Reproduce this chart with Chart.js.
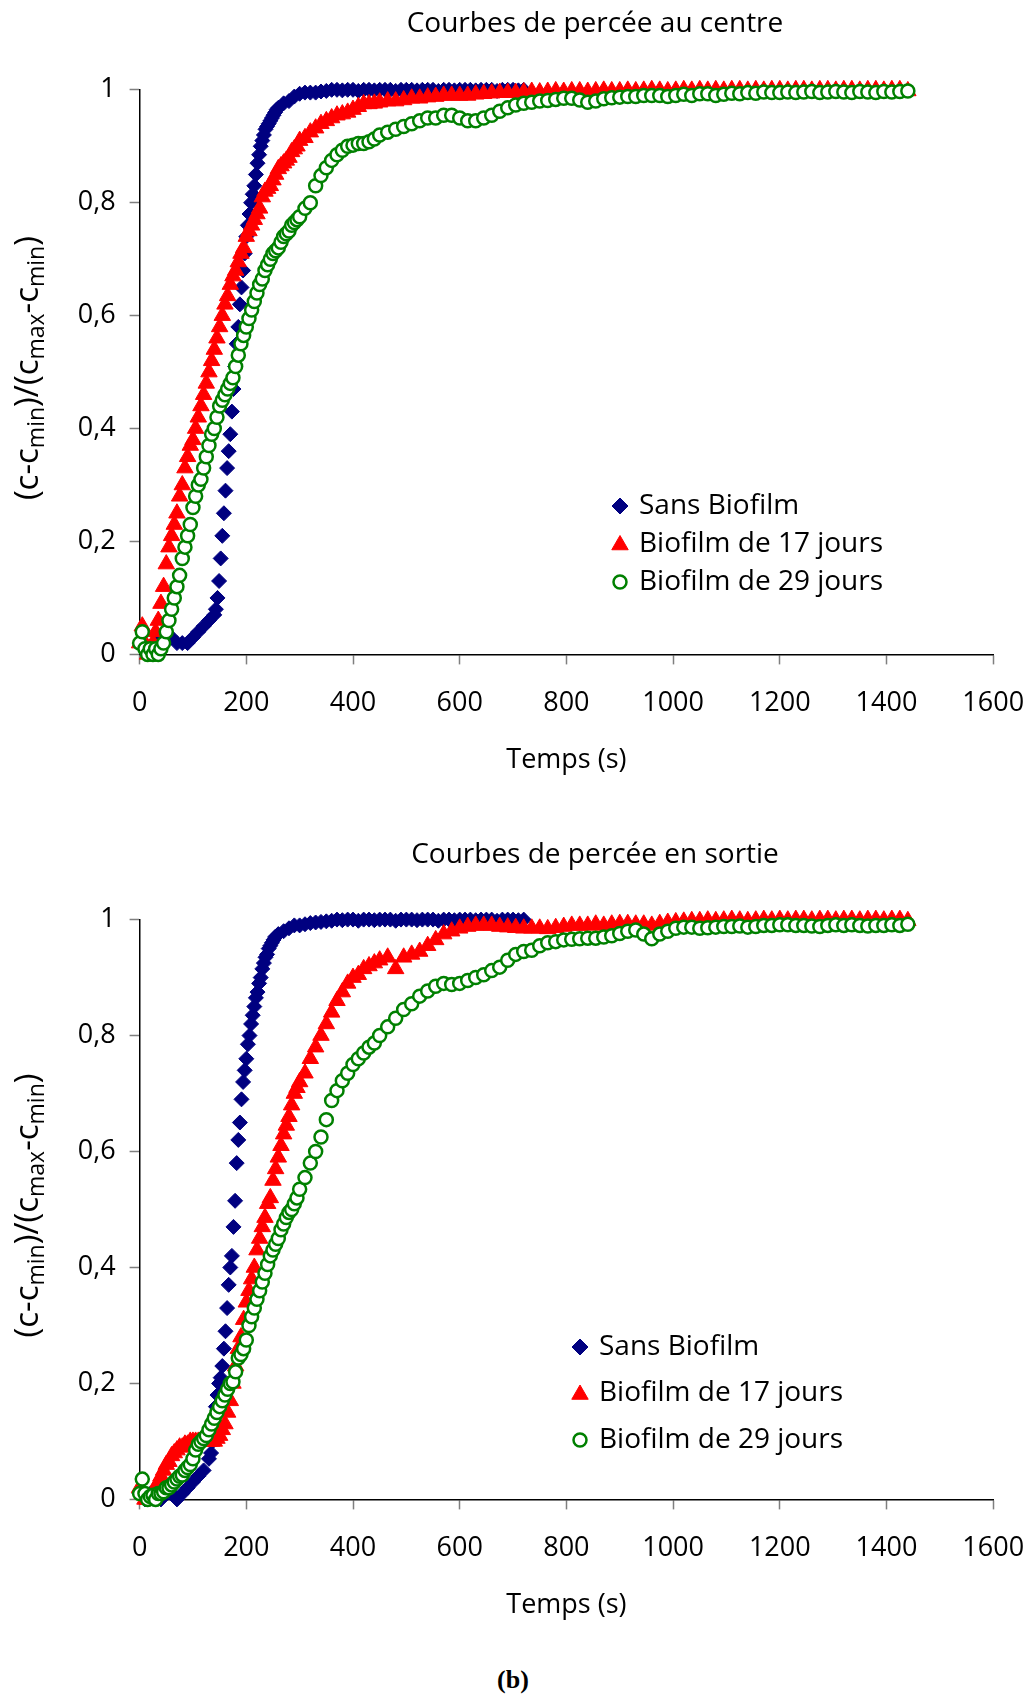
<!DOCTYPE html>
<html>
<head>
<meta charset="utf-8">
<script src="https://cdn.jsdelivr.net/npm/chart.js@4.4.1/dist/chart.umd.min.js"></script>
<style>
  html, body { margin: 0; padding: 0; background: #fff; }
  #page { position: relative; width: 1030px; height: 1697px; }
  #wrapCentre { position: absolute; left: 0; top: 0; width: 1030px; height: 790px; }
  #wrapSortie { position: absolute; left: 0; top: 800px; width: 1030px; height: 830px; }
  #caption { position: absolute; left: 0; width: 1026px; top: 1665px; text-align: center;
             font: bold 26px "Liberation Serif", "DejaVu Serif", serif; color: #000; }
</style>
</head>
<body>
<div id="page">
  <div id="wrapCentre"><canvas id="chartCentre" width="1030" height="790"></canvas></div>
  <div id="wrapSortie"><canvas id="chartSortie" width="1030" height="830"></canvas></div>
  <div id="caption">(b)</div>
</div>
<script>
(function () {
    'use strict';

    // ---- data ----
    function range(a, b, step) {
        const out = [];
        for (let t = a; t <= b + 1e-9; t += step) out.push(t);
        return out;
    }

    const seriesNames = ['Sans Biofilm', 'Biofilm de 17 jours', 'Biofilm de 29 jours'];
    const xTicks = [0, 200, 400, 600, 800, 1000, 1200, 1400, 1600];
    const yTicks = [0, 0.2, 0.4, 0.6, 0.8, 1];

    // sampling times (s)
    const tSansCentre = [...range(0, 130, 10), ...range(140, 260, 3), ...range(270, 720, 10)];
    const tSansSortie = [...range(0, 130, 10), ...range(134, 260, 3), ...range(270, 720, 10)];
    const tBiofilm = [...range(0, 300, 5), ...range(310, 450, 10), ...range(465, 1440, 15)];

    // --- au centre ---
    const sansCentre = [
        0.02, 0.01, 0.01, 0.02, 0.03, 0.03, 0.03, 0.02, 0.02, 0.02, 0.03, 0.04, 0.05, 0.06,
        0.07, 0.08, 0.10, 0.13, 0.17, 0.21, 0.25, 0.29, 0.33, 0.36,
        0.39, 0.43, 0.47, 0.51, 0.55, 0.58, 0.62, 0.65, 0.68, 0.71,
        0.74, 0.76, 0.78, 0.80, 0.815, 0.83, 0.85, 0.87, 0.885, 0.90,
        0.91, 0.92, 0.93, 0.935, 0.94, 0.945, 0.95, 0.955, 0.96, 0.965, 0.968,
        0.976, 0.98, 0.988, 0.993, 0.995, 0.995, 0.995, 0.997, 0.998, 1,
        1, 0.999, 1, 1, 0.998, 1, 1, 0.999, 1, 1,
        1, 0.998, 1, 1, 1, 0.999, 1, 1, 1, 0.998,
        1, 1, 0.999, 1, 1, 1, 0.999, 1, 1, 1,
        0.998, 1, 1, 1, 0.999, 1
    ];
    const bio17Centre = [
        0.02, 0.05, 0.02, 0.0, 0.0, 0.02, 0.04, 0.06, 0.09, 0.12,
        0.16, 0.19, 0.21, 0.23, 0.25, 0.28, 0.30, 0.33, 0.35, 0.37,
        0.38, 0.40, 0.42, 0.44, 0.46, 0.48, 0.50, 0.52, 0.54, 0.56,
        0.58, 0.60, 0.62, 0.635, 0.655, 0.67, 0.68, 0.695, 0.71, 0.72,
        0.74, 0.75, 0.76, 0.77, 0.78, 0.79, 0.81, 0.82, 0.825, 0.83,
        0.84, 0.85, 0.86, 0.865, 0.87, 0.875, 0.88, 0.89, 0.895, 0.90,
        0.91,
        0.915, 0.925, 0.932, 0.94, 0.945, 0.95, 0.955, 0.957, 0.96, 0.965,
        0.97, 0.975, 0.975, 0.976, 0.978,
        0.98, 0.98, 0.982, 0.985, 0.985, 0.987, 0.988, 0.99, 0.99, 0.99,
        0.99, 0.992, 0.993, 0.994, 0.995, 0.995, 0.995, 0.996, 0.997, 0.996,
        0.997, 0.998, 0.997, 0.998, 0.998, 0.997, 0.998, 0.999, 0.998, 0.998,
        0.999, 0.998, 0.999, 1, 0.999, 0.998, 0.999, 1, 0.999, 1,
        0.999, 1, 0.999, 1, 1, 0.999, 1, 0.999, 1, 1,
        0.999, 1, 1, 0.999, 1, 1, 0.999, 1, 1, 0.999,
        1, 1, 0.999, 1, 1, 0.998
    ];
    const bio29Centre = [
        0.02, 0.04, 0.01, 0.0, 0.01, 0.0, 0.01, 0.0, 0.01, 0.02,
        0.04, 0.06, 0.08, 0.10, 0.12, 0.14, 0.17, 0.19, 0.21, 0.23,
        0.26, 0.28, 0.30, 0.31, 0.33, 0.35, 0.37, 0.39, 0.40, 0.42,
        0.44, 0.45, 0.46, 0.47, 0.48, 0.49, 0.51, 0.53, 0.55, 0.565,
        0.58, 0.595, 0.61, 0.625, 0.64, 0.655, 0.665, 0.68, 0.69, 0.70,
        0.71, 0.715, 0.72, 0.73, 0.74, 0.745, 0.75, 0.76, 0.765, 0.77,
        0.775,
        0.79, 0.80, 0.83, 0.848, 0.862, 0.875, 0.885, 0.893, 0.90, 0.902,
        0.905, 0.905, 0.908, 0.913, 0.92,
        0.925, 0.93, 0.935, 0.94, 0.945, 0.95, 0.95, 0.955, 0.955, 0.95,
        0.945, 0.945, 0.95, 0.955, 0.962, 0.968, 0.973, 0.976, 0.978, 0.98,
        0.981, 0.983, 0.985, 0.985, 0.982, 0.978, 0.98, 0.984, 0.986, 0.987,
        0.988, 0.988, 0.99, 0.99, 0.99, 0.988, 0.99, 0.992, 0.99, 0.993,
        0.993, 0.99, 0.992, 0.994, 0.993, 0.995, 0.994, 0.996, 0.995, 0.995,
        0.996, 0.995, 0.996, 0.997, 0.995, 0.996, 0.997, 0.996, 0.995, 0.997,
        0.996, 0.995, 0.997, 0.996, 0.997, 0.998
    ];

    // --- en sortie ---
    const sansSortie = [
        0.01, 0.0, 0.01, 0.01, 0.0, 0.01, 0.01, 0.0, 0.01, 0.02, 0.03, 0.04, 0.05, 0.07,
        0.08, 0.10, 0.13, 0.16, 0.18, 0.20, 0.21, 0.23, 0.26, 0.29,
        0.33, 0.37, 0.40, 0.42, 0.47, 0.515, 0.58, 0.62, 0.65, 0.69,
        0.72, 0.74, 0.76, 0.785, 0.80, 0.82, 0.835, 0.85, 0.865, 0.875,
        0.89, 0.90, 0.915, 0.925, 0.935, 0.94, 0.95, 0.955, 0.96, 0.965,
        0.97, 0.972, 0.975,
        0.98, 0.985, 0.99, 0.99, 0.992, 0.994, 0.995, 0.996, 0.997, 0.998,
        1, 0.999, 1, 1, 0.998, 1, 1, 0.999, 1, 1,
        1, 0.998, 1, 1, 1, 0.999, 1, 1, 1, 0.998,
        1, 1, 0.999, 1, 1, 1, 0.999, 1, 1, 1,
        0.998, 1, 1, 1, 0.999, 1
    ];
    const bio17Sortie = [
        0.02, 0.01, 0.0, 0.0, 0.0, 0.01, 0.02, 0.03, 0.04, 0.05,
        0.06, 0.065, 0.075, 0.08, 0.085, 0.09, 0.09, 0.095, 0.095, 0.10,
        0.10, 0.10, 0.10, 0.10, 0.10, 0.10, 0.10, 0.10, 0.10, 0.105,
        0.11, 0.12, 0.13, 0.15, 0.17, 0.20, 0.23, 0.26, 0.28, 0.31,
        0.34, 0.36, 0.38, 0.40, 0.43, 0.45, 0.47, 0.486, 0.51, 0.52,
        0.55, 0.57, 0.59, 0.61, 0.63, 0.645, 0.66, 0.68, 0.70, 0.71,
        0.72,
        0.735, 0.76, 0.78, 0.80, 0.82, 0.84, 0.86, 0.875, 0.89, 0.90,
        0.905, 0.915, 0.92, 0.925, 0.93,
        0.935, 0.915, 0.935, 0.94, 0.945, 0.955, 0.965, 0.975, 0.98, 0.985,
        0.988, 0.99, 0.99, 0.99, 0.988, 0.987, 0.986, 0.985, 0.985, 0.985,
        0.984, 0.986, 0.988, 0.99, 0.99, 0.99, 0.992, 0.99, 0.992, 0.993,
        0.993, 0.992, 0.992, 0.99, 0.993, 0.995, 0.996, 0.997, 0.998, 0.998,
        0.999, 0.998, 0.999, 1, 0.999, 0.998, 0.999, 1, 0.999, 1,
        0.999, 1, 1, 0.999, 1, 1, 0.999, 1, 1, 0.999,
        1, 1, 0.999, 1, 1, 0.998
    ];
    const bio29Sortie = [
        0.01, 0.035, 0.01, 0.0, 0.005, 0.007, 0.0, 0.01, 0.01, 0.013,
        0.02, 0.02, 0.025, 0.03, 0.035, 0.04, 0.042, 0.05, 0.055, 0.06,
        0.07, 0.085, 0.095, 0.10, 0.105, 0.11, 0.12, 0.13, 0.14, 0.15,
        0.16, 0.17, 0.18, 0.19, 0.20, 0.203, 0.22, 0.244, 0.25, 0.26,
        0.275, 0.30, 0.315, 0.33, 0.345, 0.36, 0.375, 0.39, 0.405, 0.42,
        0.43, 0.44, 0.45, 0.465, 0.475, 0.486, 0.495, 0.50, 0.51, 0.52,
        0.535,
        0.555, 0.58, 0.60, 0.625, 0.655, 0.688, 0.705, 0.722, 0.735, 0.75,
        0.76, 0.77, 0.78, 0.787, 0.80,
        0.815, 0.83, 0.845, 0.855, 0.868, 0.877, 0.885, 0.89, 0.888, 0.89,
        0.895, 0.90, 0.905, 0.912, 0.918, 0.93, 0.94, 0.945, 0.947, 0.955,
        0.96, 0.962, 0.965, 0.966, 0.967, 0.968, 0.968, 0.97, 0.972, 0.976,
        0.98, 0.982, 0.975, 0.967, 0.975, 0.98, 0.985, 0.987, 0.987, 0.985,
        0.986, 0.987, 0.988, 0.988, 0.989, 0.987, 0.988, 0.99, 0.99, 0.991,
        0.991, 0.99, 0.99, 0.989, 0.988, 0.99, 0.991, 0.99, 0.991, 0.99,
        0.989, 0.99, 0.99, 0.991, 0.99, 0.992
    ];

    // ---- styling ----
    const FONT = '"Open Sans", "DejaVu Sans", sans-serif';
    const TICK_SIZE = 27;
    const TEXT_SIZE = 28;
    const NAVY = '#000080', RED = '#FF0000', GREEN = '#008000';

    function pts(times, values) {
        if (times.length !== values.length) console.warn('length mismatch', times.length, values.length);
        return values.map((v, i) => ({ x: times[i], y: v }));
    }

    function fmt(v) {
        return String(Math.round(v * 10) / 10).replace('.', ',');
    }

    function makeDatasets(tSans, sans, tBio, bio17, bio29) {
        return [
            {
                label: seriesNames[0], data: pts(tSans, sans), order: 3,
                pointStyle: 'rectRot', pointRadius: 7.5, borderWidth: 1,
                backgroundColor: NAVY, borderColor: NAVY, clip: false
            },
            {
                label: seriesNames[1], data: pts(tBio, bio17), order: 2,
                pointStyle: 'triangle', pointRadius: 9.5, borderWidth: 1,
                backgroundColor: RED, borderColor: RED, clip: false
            },
            {
                label: seriesNames[2], data: pts(tBio, bio29), order: 1,
                pointStyle: 'circle', pointRadius: 6.5, borderWidth: 2.5,
                backgroundColor: '#FFFFFF', borderColor: GREEN, clip: false
            }
        ];
    }

    // draws title, axis titles and the inner legend
    const decor = {
        id: 'decor',
        afterDraw(chart, args, opts) {
            const { ctx, chartArea } = chart;
            const midX = (chartArea.left + chartArea.right) / 2;
            const midY = (chartArea.top + chartArea.bottom) / 2;
            const mainFont = TEXT_SIZE + 'px ' + FONT;
            ctx.save();
            ctx.fillStyle = '#000';
            ctx.textAlign = 'center';
            ctx.textBaseline = 'middle';
            ctx.font = mainFont;
            ctx.fillText(opts.title, opts.titleX, opts.titleY);
            ctx.font = TICK_SIZE + 'px ' + FONT;
            ctx.fillText('Temps (s)', midX, chartArea.bottom + 106);

            // y title with subscripts
            const parts = [['(c-c', 0], ['min', 1], [')/(c', 0], ['max', 1], ['-c', 0], ['min', 1], [')', 0]];
            const yMain = '33px ' + FONT;
            const ySub = '23px ' + FONT;
            let total = 0;
            parts.forEach(p => { ctx.font = p[1] ? ySub : yMain; total += ctx.measureText(p[0]).width; });
            ctx.translate(29, midY - 4);
            ctx.rotate(-Math.PI / 2);
            ctx.textAlign = 'left';
            let x = -total / 2;
            parts.forEach(p => {
                ctx.font = p[1] ? ySub : yMain;
                ctx.fillText(p[0], x, p[1] ? 8 : 0);
                x += ctx.measureText(p[0]).width;
            });
            ctx.setTransform(1, 0, 0, 1, 0, 0);

            // legend
            ctx.font = mainFont;
            ctx.textAlign = 'left';
            chart.data.datasets.forEach((ds, i) => {
                const y = opts.legendY[i];
                ctx.fillStyle = ds.backgroundColor;
                ctx.strokeStyle = ds.borderColor;
                ctx.lineWidth = ds.borderWidth;
                const r = ds.pointStyle === 'rectRot' ? 8 : ds.pointStyle === 'triangle' ? 9.5 : 6.5;
                Chart.helpers.drawPoint(ctx, { pointStyle: ds.pointStyle, radius: r, borderWidth: ds.borderWidth, rotation: 0 },
                    opts.legendX, y + (ds.pointStyle === 'triangle' ? 1 : 0));
                ctx.fillStyle = '#000';
                ctx.fillText(ds.label, opts.legendX + 19, y);
            });
            ctx.restore();
        }
    };

    function makeChart(canvasId, datasets, cfg) {
        const tickFont = { family: FONT, size: TICK_SIZE };
        return new Chart(document.getElementById(canvasId), {
            type: 'scatter',
            data: { datasets },
            options: {
                responsive: false,
                animation: false,
                events: [],
                layout: { padding: { top: cfg.top, right: 36.8, left: 0, bottom: 0 } },
                scales: {
                    x: {
                        type: 'linear', min: xTicks[0], max: xTicks[xTicks.length - 1],
                        afterBuildTicks: s => { s.ticks = xTicks.map(v => ({ value: v })); },
                        afterFit: s => { s.height = cfg.xHeight; s.paddingLeft = 0; s.paddingRight = 0; },
                        grid: { drawOnChartArea: false, drawTicks: true, tickLength: 10, tickColor: '#7f7f7f', tickWidth: 1.5 },
                        border: { display: true, color: '#000', width: 1.5 },
                        ticks: { font: tickFont, color: '#000', padding: 23, maxRotation: 0, callback: v => fmt(v) }
                    },
                    y: {
                        type: 'linear', min: yTicks[0], max: yTicks[yTicks.length - 1],
                        afterBuildTicks: s => { s.ticks = yTicks.map(v => ({ value: v })); },
                        afterFit: s => { s.width = 139.6; s.paddingTop = 0; s.paddingBottom = 0; },
                        grid: { drawOnChartArea: false, drawTicks: true, tickLength: 10, tickColor: '#7f7f7f', tickWidth: 1.5 },
                        border: { display: true, color: '#000', width: 1.5 },
                        ticks: { font: tickFont, color: '#000', padding: 14, callback: v => fmt(v) }
                    }
                },
                plugins: {
                    legend: { display: false },
                    tooltip: { enabled: false },
                    decor: cfg.decor
                }
            },
            plugins: [decor]
        });
    }

    makeChart('chartCentre', makeDatasets(tSansCentre, sansCentre, tBiofilm, bio17Centre, bio29Centre), {
        top: 89.8, xHeight: 135.6,
        decor: { title: 'Courbes de percée au centre', titleX: 595, titleY: 24,
                 legendX: 620, legendY: [506, 544, 582] }
    });

    makeChart('chartSortie', makeDatasets(tSansSortie, sansSortie, tBiofilm, bio17Sortie, bio29Sortie), {
        top: 119.6, xHeight: 130.6,
        decor: { title: 'Courbes de percée en sortie', titleX: 595, titleY: 55,
                 legendX: 580, legendY: [547, 593.5, 640] }
    });
})();
</script>
</body>
</html>
